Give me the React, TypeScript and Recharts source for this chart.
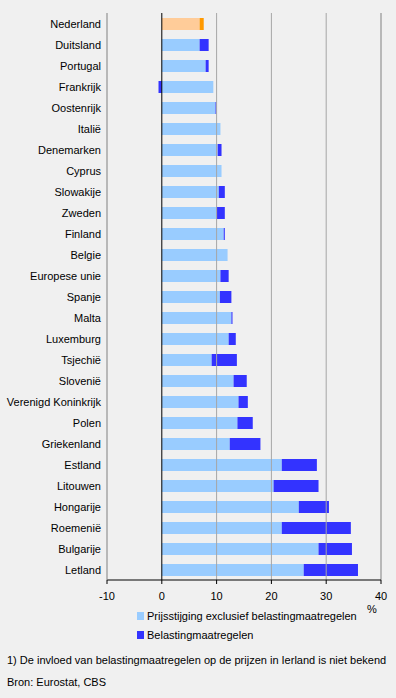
import { BarChart, Bar, XAxis, YAxis, Cell, ReferenceLine } from 'recharts';

const countries = [
  'Nederland', 'Duitsland', 'Portugal', 'Frankrijk', 'Oostenrijk', 'Italië', 'Denemarken',
  'Cyprus', 'Slowakije', 'Zweden', 'Finland', 'Belgie', 'Europese unie', 'Spanje', 'Malta',
  'Luxemburg', 'Tsjechië', 'Slovenië', 'Verenigd Koninkrijk', 'Polen', 'Griekenland',
  'Estland', 'Litouwen', 'Hongarije', 'Roemenië', 'Bulgarije', 'Letland',
];

// prijsstijging exclusief belastingmaatregelen
const exclTax = [
  6.9, 6.9, 8.0, 9.4, 9.8, 10.7, 10.2, 10.9, 10.4, 10.0, 11.3, 12.0, 10.7, 10.6, 12.7,
  12.2, 9.1, 13.1, 14.0, 13.8, 12.4, 21.9, 20.4, 25.0, 21.9, 28.6, 25.9,
];

// belastingmaatregelen
const taxEffect = [
  0.75, 1.65, 0.55, -0.6, 0.2, 0, 0.7, 0, 1.1, 1.5, 0.2, 0, 1.5, 2.1, 0.2,
  1.3, 4.6, 2.4, 1.7, 2.8, 5.6, 6.4, 8.2, 5.5, 12.6, 6.1, 9.9,
];

const xTicks = [-10, 0, 10, 20, 30, 40];

const data = countries.map((name, i) => ({ name, excl: exclTax[i], tax: taxEffect[i] }));

const FONT = 'Arial, "Liberation Sans", sans-serif';

function CountryTick(props: any) {
  const { x, y, payload } = props;
  return (
    <text x={x} y={y} dy={4} textAnchor="end" fill="#000" fontSize={11} fontFamily={FONT}>
      {payload.value}
    </text>
  );
}

function LegendItem({ color, label }: { color: string; label: string }) {
  return (
    <div style={{ display: 'flex', alignItems: 'center', height: 19 }}>
      <span style={{ width: 7, height: 8, background: color, marginRight: 3, display: 'inline-block' }} />
      <span>{label}</span>
    </div>
  );
}

export default function App() {
  return (
    <div style={{ position: 'fixed', left: 0, top: 0, width: 396, height: 698, background: '#f0f0f0' }}>
      <BarChart
        width={396}
        height={698}
        data={data}
        layout="vertical"
        stackOffset="sign"
        margin={{ top: 13, right: 15, left: 0, bottom: 88 }}
      >
        <XAxis
          type="number"
          domain={[-10, 40]}
          ticks={xTicks}
          interval={0}
          height={30}
          tick={{ fill: '#000', fontSize: 11, fontFamily: FONT }}
          tickSize={4}
          tickMargin={8}
          tickLine={{ stroke: '#000' }}
          axisLine={{ stroke: '#000' }}
        />
        <XAxis
          xAxisId="top"
          orientation="top"
          type="number"
          domain={[-10, 40]}
          height={0}
          tick={false}
          tickLine={false}
          axisLine={{ stroke: '#808080' }}
        />
        <YAxis
          type="category"
          dataKey="name"
          width={107}
          interval={0}
          tickLine={false}
          tickSize={4}
          tickMargin={2}
          axisLine={{ stroke: '#808080' }}
          tick={<CountryTick />}
        />
        <ReferenceLine x={10} stroke="#a6a6a6" />
        <ReferenceLine x={20} stroke="#a6a6a6" />
        <ReferenceLine x={30} stroke="#a6a6a6" />
        <ReferenceLine x={40} stroke="#808080" />
        <Bar dataKey="excl" name="Prijsstijging exclusief belastingmaatregelen" stackId="a" fill="#99ccff" barSize={12} isAnimationActive={false}>
          {data.map((d, i) => (
            <Cell key={d.name} fill={i === 0 ? '#ffcc99' : '#99ccff'} />
          ))}
        </Bar>
        <Bar dataKey="tax" name="Belastingmaatregelen" stackId="a" fill="#3333ff" barSize={12} isAnimationActive={false}>
          {data.map((d, i) => (
            <Cell key={d.name} fill={i === 0 ? '#ff9900' : '#3333ff'} />
          ))}
        </Bar>
        <ReferenceLine x={0} stroke="#000" />
      </BarChart>
      <div style={{ position: 'absolute', left: 137, top: 606, fontFamily: FONT, fontSize: 11 }}>
        <LegendItem color="#99ccff" label="Prijsstijging exclusief belastingmaatregelen" />
        <LegendItem color="#3333ff" label="Belastingmaatregelen" />
      </div>
      <div style={{ position: 'absolute', left: 367, top: 603, fontFamily: FONT, fontSize: 11 }}>%</div>
      <div style={{ position: 'absolute', left: 7, top: 654, fontFamily: FONT, fontSize: 11 }}>
        1) De invloed van belastingmaatregelen op de prijzen in Ierland is niet bekend
      </div>
      <div style={{ position: 'absolute', left: 7, top: 676, fontFamily: FONT, fontSize: 11 }}>
        Bron: Eurostat, CBS
      </div>
    </div>
  );
}
